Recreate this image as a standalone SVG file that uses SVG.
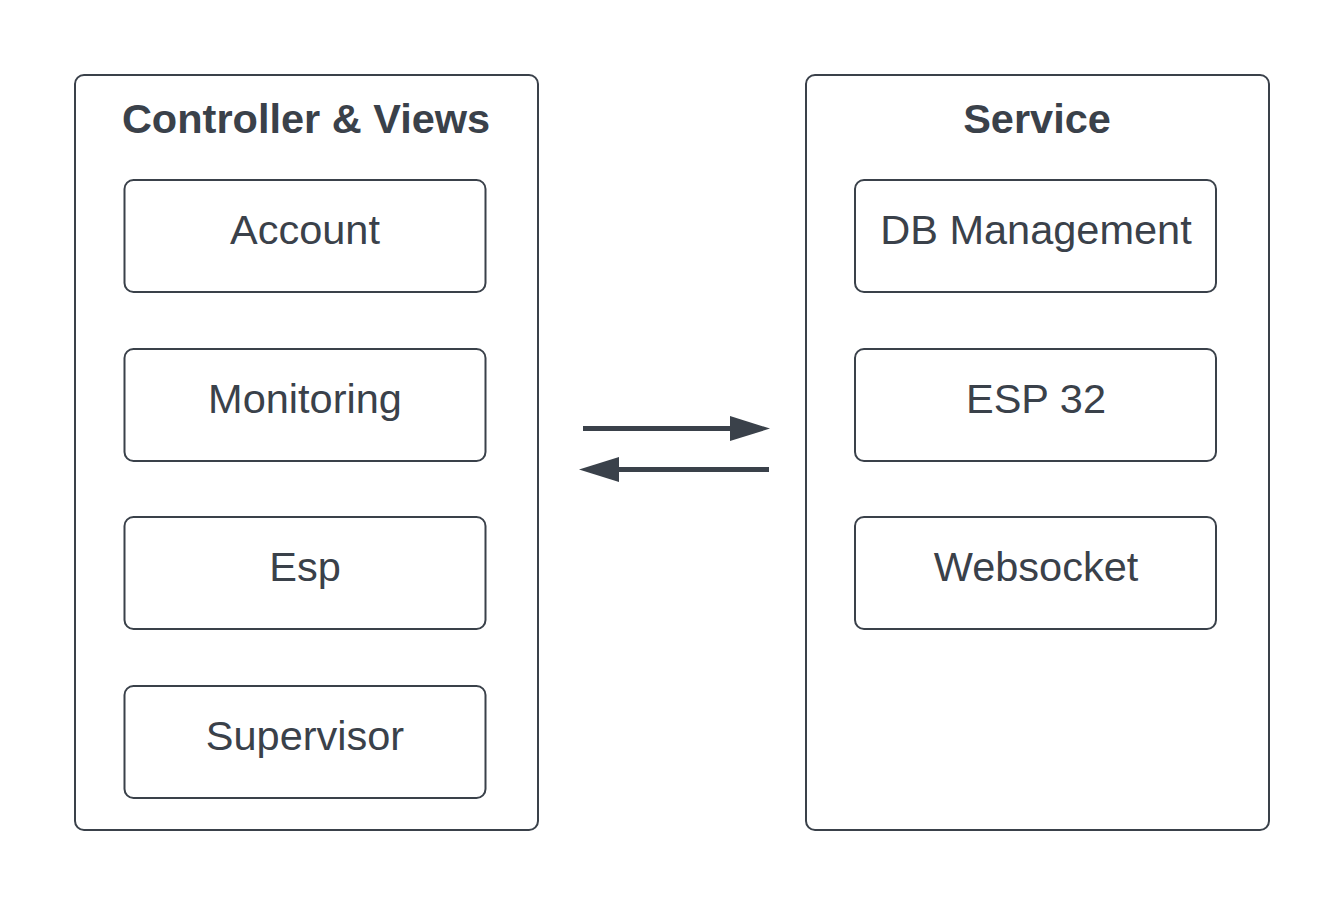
<svg xmlns="http://www.w3.org/2000/svg" width="1344" height="906" viewBox="0 0 1344 906">
<style>
.c{fill:#ffffff;stroke:#3a414a;stroke-width:2}
.b{fill:#ffffff;stroke:#3a414a;stroke-width:2}
.t{font-family:"Liberation Sans",Arial,sans-serif;font-size:41.5px;fill:#3a414a;text-anchor:middle}
.h{font-family:"Liberation Sans",Arial,sans-serif;font-size:41.5px;font-weight:bold;fill:#3a414a;text-anchor:middle}
.l{stroke:#3a414a;stroke-width:5;fill:none}
</style>
<rect width="1344" height="906" fill="#ffffff"/>
<g id="controller-views">
<rect class="c" x="75" y="75" width="463" height="755" rx="9"/>
<text class="h" x="306" y="133">Controller &amp; Views</text>
</g>
<g id="account"><rect class="b" x="124.5" y="180" width="361" height="112" rx="9"/><text class="t" x="305" y="243.5">Account</text></g>
<g id="monitoring"><rect class="b" x="124.5" y="349" width="361" height="112" rx="9"/><text class="t" x="305" y="412.5">Monitoring</text></g>
<g id="esp"><rect class="b" x="124.5" y="517" width="361" height="112" rx="9"/><text class="t" x="305" y="580.5">Esp</text></g>
<g id="supervisor"><rect class="b" x="124.5" y="686" width="361" height="112" rx="9"/><text class="t" x="305" y="749.5">Supervisor</text></g>
<g id="service">
<rect class="c" x="806" y="75" width="463" height="755" rx="9"/>
<text class="h" x="1037" y="133">Service</text>
</g>
<g id="db-management"><rect class="b" x="855" y="180" width="361" height="112" rx="9"/><text class="t" x="1036" y="243.5">DB Management</text></g>
<g id="esp32"><rect class="b" x="855" y="349" width="361" height="112" rx="9"/><text class="t" x="1036" y="412.5">ESP 32</text></g>
<g id="websocket"><rect class="b" x="855" y="517" width="361" height="112" rx="9"/><text class="t" x="1036" y="580.5">Websocket</text></g>
<g id="connectors">
<line class="l" x1="583" y1="428.5" x2="732" y2="428.5"/>
<polygon points="730,416 770,428.5 730,441" fill="#3a414a"/>
<line class="l" x1="769" y1="469.5" x2="617" y2="469.5"/>
<polygon points="619,457 579,469.5 619,482" fill="#3a414a"/>
</g>
</svg>
